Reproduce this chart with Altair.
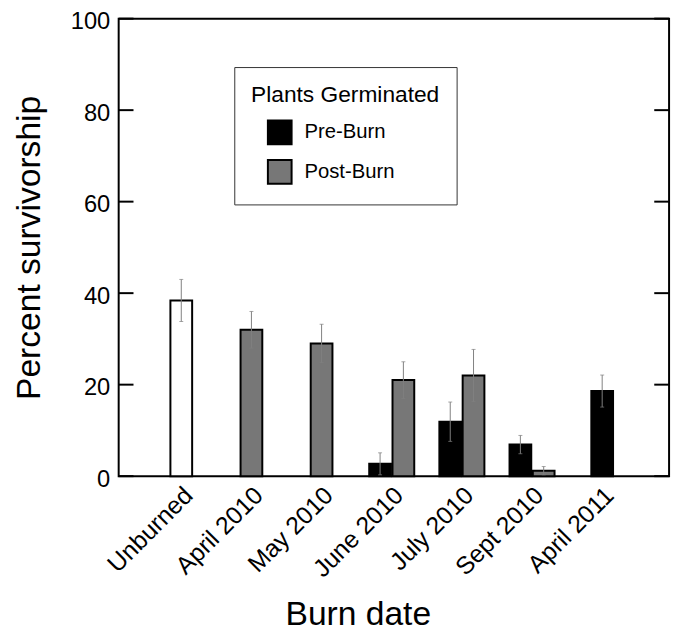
import json
import altair as alt
import pandas as pd

# ---- data ----
categories = ["Unburned", "April 2010", "May 2010", "June 2010",
              "July 2010", "Sept 2010", "April 2011"]

bar_dates = ["Unburned", "April 2010", "May 2010", "June 2010", "June 2010",
             "July 2010", "July 2010", "Sept 2010", "Sept 2010", "April 2011"]
bar_groups = ["Unburned", "Post-Burn", "Post-Burn", "Pre-Burn", "Post-Burn",
              "Pre-Burn", "Post-Burn", "Pre-Burn", "Post-Burn", "Pre-Burn"]
bar_values = [38.4, 32.0, 29.0, 2.7, 21.0, 11.9, 22.0, 6.9, 1.2, 18.6]
bar_errors = [4.6, 4.0, 4.2, 2.4, 4.0, 4.3, 5.7, 2.0, 0.9, 3.5]

y_ticks = [0, 20, 40, 60, 80, 100]

legend_groups = ["Pre-Burn", "Post-Burn"]
group_domain = ["Pre-Burn", "Post-Burn", "Unburned"]
group_colors = ["#000000", "#777777", "#ffffff"]

# ---- build table ----
counts = {c: bar_dates.count(c) for c in categories}
PAIR_SHIFT = 0.166
rows = []
for d, g, v, e in zip(bar_dates, bar_groups, bar_values, bar_errors):
    idx = categories.index(d)
    shift = 0.0
    if counts[d] == 2:
        shift = -PAIR_SHIFT if g == "Pre-Burn" else PAIR_SHIFT
    rows.append({"date": d, "group": g, "value": v,
                 "pos": idx + shift, "lo": max(v - e, 0), "hi": v + e})
df = pd.DataFrame(rows)
ticks_df = pd.DataFrame({"t": y_ticks})

FONT = "Liberation Sans"
label_expr = json.dumps(categories) + "[datum.value]"

xscale = alt.Scale(domain=[-0.822, 6.883], nice=False, zero=False)
yscale = alt.Scale(domain=[0, 100], nice=False)

x_enc = alt.X("pos:Q", scale=xscale,
              axis=alt.Axis(title="Burn date", values=list(range(len(categories))),
                            labelExpr=label_expr, labelAngle=315,
                            labelAlign="right", labelBaseline="middle",
                            labelFontSize=25, labelPadding=15, labelOffset=7,
                            labelOverlap=False, labelBound=False,
                            ticks=False, domain=False, grid=False,
                            titleFontSize=34, titleFontWeight="normal",
                            titleX=242, titleY=123, titleAlign="center",
                            labelColor="black", titleColor="black"))
y_enc = alt.Y("value:Q", scale=yscale,
              axis=alt.Axis(title="Percent survivorship", values=y_ticks,
                            labelFontSize=24, labelPadding=9, labelOffset=3,
                            ticks=False, domain=False, grid=False,
                            titleFontSize=34, titleFontWeight="normal",
                            titlePadding=24,
                            labelColor="black", titleColor="black"))

bars = alt.Chart(df).mark_bar(size=22, stroke="black", strokeWidth=2).encode(
    x=x_enc,
    y=y_enc,
    fill=alt.Fill("group:N",
                  scale=alt.Scale(domain=group_domain, range=group_colors),
                  legend=alt.Legend(
                      title="Plants Germinated", orient="none",
                      legendX=117, legendY=49, values=legend_groups,
                      strokeColor="#333333", fillColor="white", padding=17,
                      titleFontSize=23, titleFontWeight="normal",
                      titleLimit=400, labelLimit=300,
                      titleColor="black", labelColor="black",
                      labelFontSize=20.5, symbolType="square", symbolSize=576,
                      symbolStrokeColor="black", symbolStrokeWidth=2,
                      symbolOffset=16, labelOffset=12, rowPadding=8,
                      titlePadding=13)),
)

err = alt.Chart(df).mark_rule(color="#808080", strokeWidth=1).encode(
    x="pos:Q", y="lo:Q", y2="hi:Q")
cap_lo = alt.Chart(df).mark_tick(color="#808080", thickness=1, size=4,
                                 orient="horizontal").encode(x="pos:Q", y="lo:Q")
cap_hi = alt.Chart(df).mark_tick(color="#808080", thickness=1, size=4,
                                 orient="horizontal").encode(x="pos:Q", y="hi:Q")

left_ticks = alt.Chart(ticks_df).mark_rule(color="black", strokeWidth=2).encode(
    y=alt.Y("t:Q"), x=alt.value(0), x2=alt.value(15))
right_ticks = alt.Chart(ticks_df).mark_rule(color="black", strokeWidth=2).encode(
    y=alt.Y("t:Q"), x=alt.value(542), x2=alt.value(557))

chart = alt.layer(bars, err, cap_lo, cap_hi, left_ticks, right_ticks).properties(
    width=557, height=463,
    autosize=alt.AutoSizeParams(type="none"),
    padding={"left": 112, "top": 7, "right": 6, "bottom": 159},
).configure(font=FONT).configure_view(stroke="black", strokeWidth=2)

chart.save("out.html", embed_options={"renderer": "svg", "actions": False})
